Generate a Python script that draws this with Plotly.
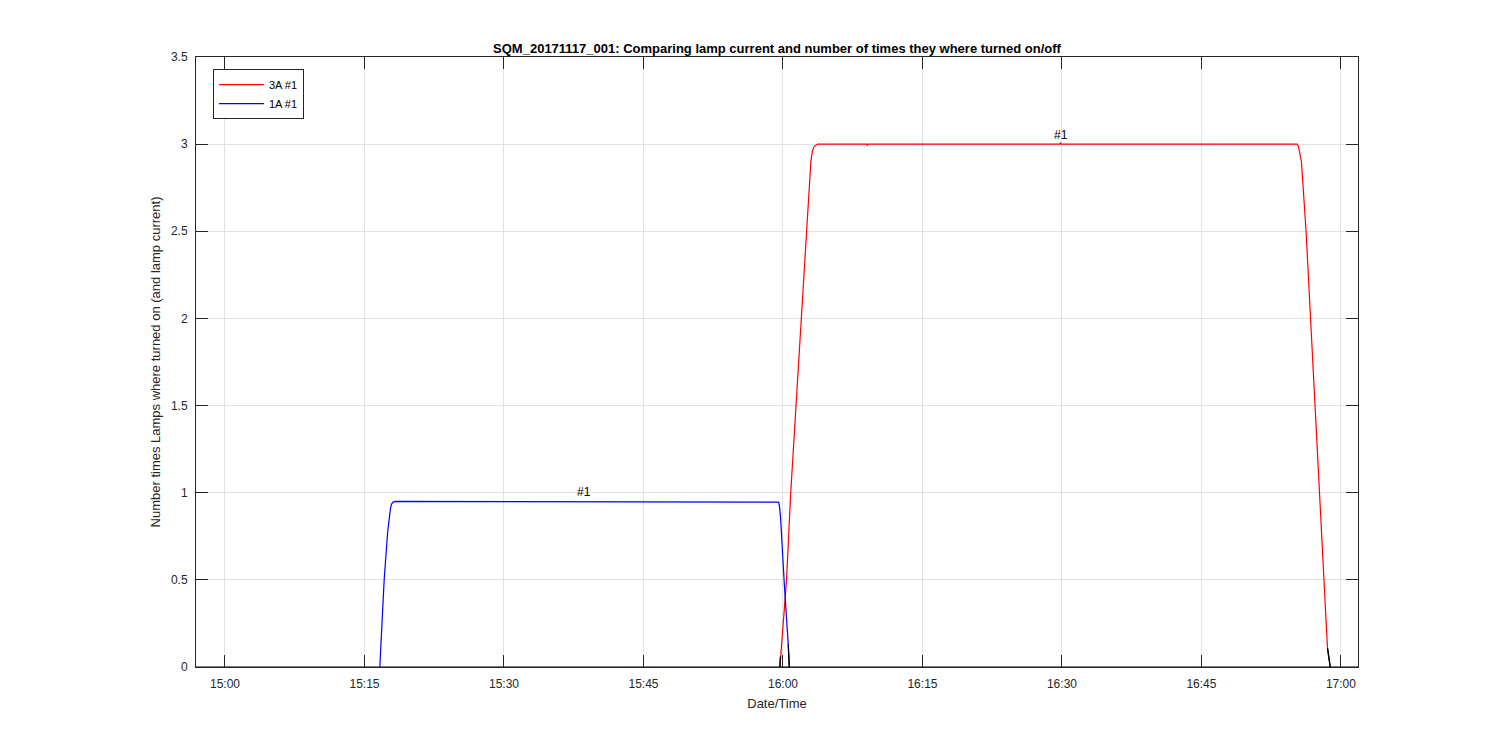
import plotly.graph_objects as go

DAY = "2017-11-17 "

# 3A #1 lamp (red)
red_t = ["15:59:42", "16:00:23", "16:00:50", "16:01:40", "16:02:29", "16:02:50", "16:03:00",
         "16:03:10", "16:03:20", "16:03:43", "16:09:00", "16:09:04", "16:09:10", "16:29:45",
         "16:29:50", "16:29:55", "16:55:17", "16:55:25", "16:55:33", "16:55:45", "16:56:15",
         "16:57:12", "16:58:10", "16:58:33"]
red_v = [0.02, 0.50, 1.00, 1.75, 2.50, 2.80, 2.90,
         2.96, 2.985, 3.0, 3.0, 2.993, 3.0, 3.0,
         3.006, 3.0, 3.0, 2.99, 2.96, 2.90, 2.50,
         1.50, 0.50, 0.11]

# 1A #1 lamp (blue)
blue_t = ["15:16:39", "15:17:07", "15:17:30", "15:17:40", "15:17:48", "15:17:55", "15:18:05",
          "15:18:20", "15:59:25", "15:59:32", "15:59:38", "15:59:45", "16:00:09", "16:00:34"]
blue_v = [0.0, 0.50, 0.78, 0.86, 0.91, 0.935, 0.946,
          0.95, 0.95, 0.946, 0.92, 0.85, 0.47, 0.13]

# lamps off / baseline (black)
black_t = ["14:56:50", "17:01:50", None, "15:59:40", "15:59:44", None, "16:00:34", "16:00:41",
           None, "16:58:33", "16:58:51"]
black_v = [0.0, 0.0, None, 0.0, 0.06, None, 0.13, 0.0,
           None, 0.11, 0.0]

x_ticks = ["15:00", "15:15", "15:30", "15:45", "16:00", "16:15", "16:30", "16:45", "17:00"]
y_ticks = [0, 0.5, 1, 1.5, 2, 2.5, 3, 3.5]
y_tick_text = ["0", "0.5", "1", "1.5", "2", "2.5", "3", "3.5"]

labels_t = ["15:38:38", "16:29:52"]
labels_v = [0.952, 3.003]
labels_txt = ["#1", "#1"]

FONT = "Liberation Sans, Arial"


def ts(lst):
    return [DAY + t if t is not None else None for t in lst]


fig = go.Figure()
fig.add_trace(go.Scatter(x=ts(black_t), y=black_v, mode="lines",
                         line=dict(color="black", width=1.2), showlegend=False,
                         connectgaps=False, hoverinfo="skip"))
fig.add_trace(go.Scatter(x=ts(red_t), y=red_v, mode="lines", name="3A #1",
                         line=dict(color="#ff0000", width=1.2)))
fig.add_trace(go.Scatter(x=ts(blue_t), y=blue_v, mode="lines", name="1A #1",
                         line=dict(color="#0000ff", width=1.2)))
# redraw black bits on top
fig.add_trace(go.Scatter(x=ts(black_t[3:]), y=black_v[3:], mode="lines",
                         line=dict(color="black", width=1.2), showlegend=False,
                         connectgaps=False, hoverinfo="skip"))

for t, v, s in zip(labels_t, labels_v, labels_txt):
    fig.add_annotation(x=DAY + t, y=v, text=s, showarrow=False, yanchor="bottom",
                       font=dict(size=12, color="black", family=FONT))

axis_common = dict(showline=True, linecolor="#262626", linewidth=1, mirror="ticks",
                   ticks="inside", ticklen=12, tickcolor="#262626", tickwidth=1,
                   showgrid=True, gridcolor="#e1e1e1", gridwidth=1, zeroline=False,
                   tickfont=dict(size=12, color="#262626", family=FONT))

fig.update_xaxes(range=[DAY + "14:56:53", DAY + "17:01:50"],
                 tickvals=[DAY + t for t in x_ticks], ticktext=x_ticks,
                 ticklabelstandoff=6,
                 title=dict(text="Date/Time", font=dict(size=13, color="#262626", family=FONT),
                            standoff=8),
                 **axis_common)
fig.update_yaxes(range=[0, 3.5], tickvals=y_ticks, ticktext=y_tick_text,
                 ticklabelstandoff=5,
                 title=dict(text="Number times Lamps where turned on (and lamp current)",
                            font=dict(size=13, color="#262626", family=FONT),
                            standoff=7),
                 **axis_common)

W, H = 1500, 750
fig.update_layout(
    width=W, height=H,
    margin=dict(l=188, r=150, t=49, b=91),
    paper_bgcolor="white", plot_bgcolor="white",
    title=dict(text="<b>SQM_20171117_001: Comparing lamp current and number of times they where turned on/off</b>",
               x=(188 + 1350) / 2 / W, xanchor="center", y=1 - 40 / H, yanchor="middle",
               font=dict(size=13, color="black", family=FONT)),
    legend=dict(x=0.0146, y=0.980, xanchor="left", yanchor="top",
                bgcolor="white", bordercolor="#262626", borderwidth=1,
                font=dict(size=11, color="black", family=FONT),
                itemwidth=45, tracegroupgap=0),
    showlegend=True,
)

fig.write_html("out.html")
